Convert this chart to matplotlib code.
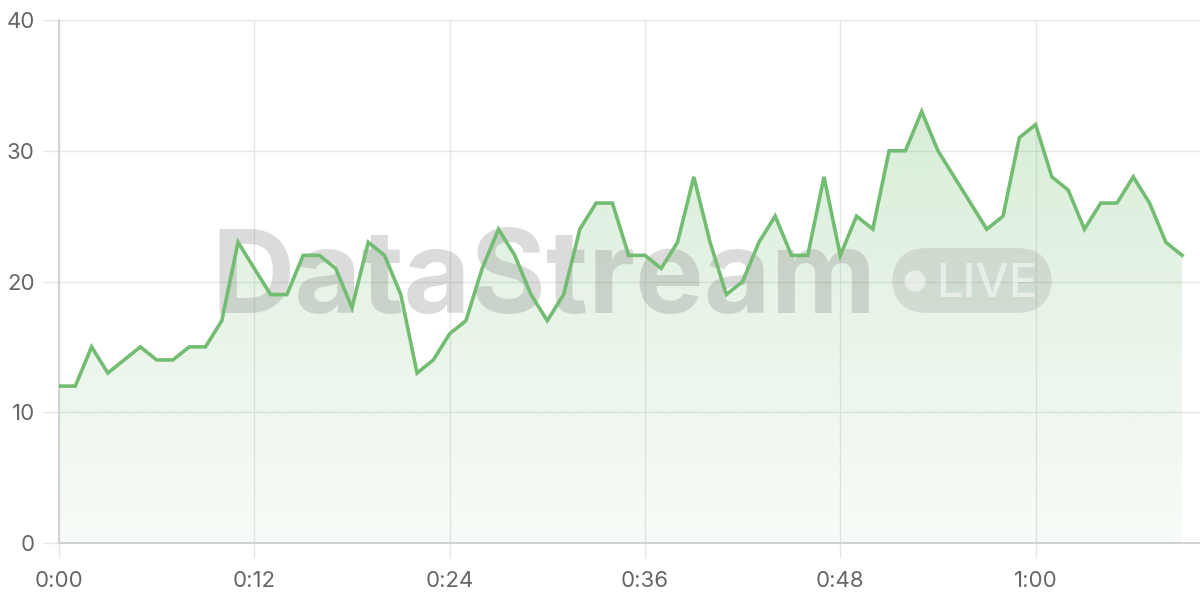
import numpy as np
import matplotlib
matplotlib.use("Agg")
import matplotlib.pyplot as plt
from matplotlib.patches import FancyBboxPatch, Ellipse

# minutes since start, one reading per minute
minutes = list(range(70))
values = [12, 12, 15, 13, 14, 15, 14, 14, 15, 15,
          17, 23, 21, 19, 19, 22, 22, 21, 18, 23,
          22, 19, 13, 14, 16, 17, 21, 24, 22, 19,
          17, 19, 24, 26, 26, 22, 22, 21, 23, 28,
          23, 19, 20, 23, 25, 22, 22, 28, 22, 25,
          24, 30, 30, 33, 30, 28, 26, 24, 25, 31,
          32, 28, 27, 24, 26, 26, 28, 26, 23, 22]
x_ticks = [0, 12, 24, 36, 48, 60]
y_ticks = [0, 10, 20, 30, 40]

LINE = "#73bd73"
GRID = "#e6e6e6"
AXIS = "#d2d2d2"
LABEL = "#666666"
X_MAX = 70.1


def fmt_min(m):
    return "{}:{:02d}".format(m // 60, m % 60)


def main():
    plt.rcParams['font.family'] = ['Inter', 'DejaVu Sans']
    fig = plt.figure(figsize=(12, 6), dpi=100)
    ax = fig.add_axes([59 / 1200, 57 / 600, 1 - 59 / 1200, (543 - 20) / 600])

    ax.set_xlim(0, X_MAX)
    ax.set_ylim(0, 40)
    ax.set_xticks(x_ticks)
    ax.set_xticklabels([fmt_min(m) for m in x_ticks])
    ax.set_yticks(y_ticks)
    ax.grid(True, color=GRID, linewidth=1.0, zorder=0)
    ax.set_axisbelow(True)
    ax.tick_params(axis='both', colors=GRID, labelcolor=LABEL, labelsize=16,
                   width=1.0)
    ax.tick_params(axis='y', length=11.5, pad=6)
    ax.tick_params(axis='x', length=11, pad=9)
    for s in ['top', 'right']:
        ax.spines[s].set_visible(False)
    for s in ['left', 'bottom']:
        ax.spines[s].set_color(AXIS)
        ax.spines[s].set_linewidth(1.5)

    # gradient fill under the line
    poly = ax.fill_between(minutes, values, 0, facecolor='none',
                           edgecolor='none')
    alpha = np.linspace(0.32, 0.05, 256).reshape(-1, 1)
    img = np.zeros((256, 1, 4))
    img[..., 0] = 115 / 255
    img[..., 1] = 189 / 255
    img[..., 2] = 115 / 255
    img[..., 3] = alpha
    im = ax.imshow(img, extent=[0, X_MAX, 0, 40], aspect='auto',
                   origin='upper', zorder=2, interpolation='bilinear')
    im.set_clip_path(poly.get_paths()[0], transform=ax.transData)

    # watermark between fill and line
    ax.text(211 / 1200, 1 - 313 / 600, "DataStream", fontsize=83,
            fontweight='bold', color='#808080', alpha=0.28,
            ha='left', va='baseline', transform=fig.transFigure,
            zorder=2.5, clip_on=False)
    box = FancyBboxPatch((892 / 1200, 1 - 313 / 600), 160 / 1200, 65 / 600,
                         boxstyle="round,pad=0,rounding_size=0.03",
                         mutation_aspect=2.0,
                         transform=fig.transFigure, facecolor='#808080',
                         alpha=0.2, edgecolor='none', zorder=2.5,
                         clip_on=False)
    ax.add_artist(box)
    ax.add_artist(Ellipse((915 / 1200, 1 - 281 / 600), 21 / 1200, 21 / 600,
                          transform=fig.transFigure, facecolor='white',
                          alpha=0.5, edgecolor='none', zorder=2.6,
                          clip_on=False))
    ax.text(936 / 1200, 1 - 297 / 600, "LIVE", fontsize=34, color='white',
            fontweight='medium', alpha=0.5, ha='left', va='baseline',
            transform=fig.transFigure, zorder=2.6, clip_on=False)

    ax.plot(minutes, values, color=LINE, linewidth=2.6, zorder=3,
            solid_joinstyle='miter')

    fig.savefig("out.png", dpi=100)


if __name__ == "__main__":
    main()
